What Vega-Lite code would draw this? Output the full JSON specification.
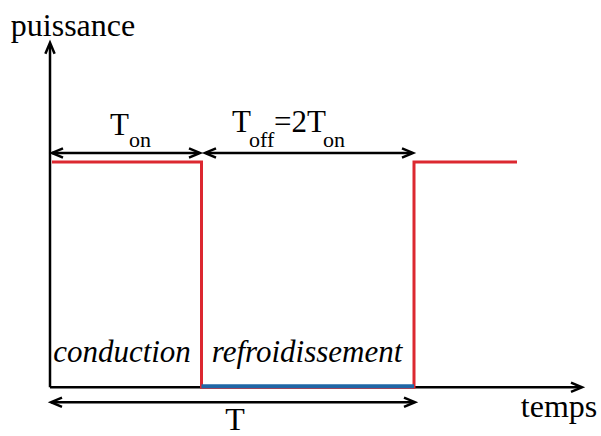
{
  "$schema": "https://vega.github.io/schema/vega-lite/v6.json",
  "width": 601,
  "height": 436,
  "autosize": {"type": "fit", "contains": "padding"},
  "padding": 0,
  "background": "white",
  "config": {"view": {"stroke": null}, "text": {"font": "Times New Roman, Liberation Serif, Times, serif"}},
  "datasets": {
    "segs": [
      {"x1": 0, "y1": 0, "x2": 0, "y2": 345},
      {"x1": 0, "y1": 0, "x2": 531, "y2": 0},
      {"x1": 2, "y1": 236, "x2": 149, "y2": 236},
      {"x1": 156, "y1": 236, "x2": 362, "y2": 236},
      {"x1": 1, "y1": -15, "x2": 364, "y2": -15}
    ],
    "heads": [
      {"t": 0, "p": 347, "dir": "up"},
      {"t": 532, "p": 0, "dir": "right"},
      {"t": 2, "p": 236, "dir": "left"},
      {"t": 150, "p": 236, "dir": "right"},
      {"t": 155, "p": 236, "dir": "left"},
      {"t": 363, "p": 236, "dir": "right"},
      {"t": 1, "p": -15, "dir": "left"},
      {"t": 365, "p": -15, "dir": "right"}
    ],
    "power": [
      {"i": 1, "t": 2, "p": 227},
      {"i": 2, "t": 151.5, "p": 227},
      {"i": 3, "t": 151.5, "p": 0},
      {"i": 4, "t": 364, "p": 0},
      {"i": 5, "t": 364, "p": 227},
      {"i": 6, "t": 467, "p": 227}
    ],
    "cool": [
      {"t": 151.5, "t2": 364, "p": 1}
    ],
    "texts": [
      {"kind": "label", "t": 23, "p": 354, "text": "puissance"},
      {"kind": "label", "t": 509, "p": -30, "text": "temps"},
      {"kind": "label", "t": 185, "p": -43, "text": "T"},
      {"kind": "main", "t": 60, "p": 254, "text": "T"},
      {"kind": "main", "t": 182, "p": 257, "text": "T"},
      {"kind": "main", "t": 224, "p": 257, "text": "=2T"},
      {"kind": "sub", "t": 79, "p": 242, "text": "on"},
      {"kind": "sub", "t": 199, "p": 242, "text": "off"},
      {"kind": "sub", "t": 273, "p": 242, "text": "on"},
      {"kind": "ital", "t": 72, "p": 25, "text": "conduction"},
      {"kind": "ital", "t": 257, "p": 25, "text": "refroidissement"}
    ]
  },
  "layer": [
    {
      "data": {"name": "segs"},
      "mark": {"type": "rule", "color": "black", "strokeWidth": 2.5},
      "encoding": {
        "x": {"field": "x1", "type": "quantitative", "scale": {"domain": [-50, 551], "nice": false, "zero": false}, "axis": null},
        "x2": {"field": "x2"},
        "y": {"field": "y1", "type": "quantitative", "scale": {"domain": [-46, 390], "nice": false, "zero": false}, "axis": null},
        "y2": {"field": "y2"}
      }
    },
    {
      "data": {"name": "power"},
      "mark": {"type": "line", "color": "#dc2830", "strokeWidth": 3, "interpolate": "linear"},
      "encoding": {
        "x": {"field": "t", "type": "quantitative", "scale": {"domain": [-50, 551], "nice": false, "zero": false}, "axis": null},
        "y": {"field": "p", "type": "quantitative", "scale": {"domain": [-46, 390], "nice": false, "zero": false}, "axis": null},
        "order": {"field": "i", "type": "quantitative"}
      }
    },
    {
      "data": {"name": "cool"},
      "mark": {"type": "rule", "color": "#1f66a6", "strokeWidth": 4},
      "encoding": {
        "x": {"field": "t", "type": "quantitative", "scale": {"domain": [-50, 551], "nice": false, "zero": false}, "axis": null},
        "x2": {"field": "t2"},
        "y": {"field": "p", "type": "quantitative", "scale": {"domain": [-46, 390], "nice": false, "zero": false}, "axis": null}
      }
    },
    {
      "data": {"name": "heads"},
      "mark": {"type": "point", "filled": false, "color": "black", "strokeWidth": 2.5, "opacity": 1, "size": 484, "strokeJoin": "miter"},
      "encoding": {
        "x": {"field": "t", "type": "quantitative", "scale": {"domain": [-50, 551], "nice": false, "zero": false}, "axis": null},
        "y": {"field": "p", "type": "quantitative", "scale": {"domain": [-46, 390], "nice": false, "zero": false}, "axis": null},
        "shape": {"field": "dir", "type": "nominal", "legend": null,
          "scale": {"domain": ["right", "left", "up"], "range": ["M-1,-0.42L0,0L-1,0.42", "M1,-0.42L0,0L1,0.42", "M-0.42,1L0,0L0.42,1"]}}
      }
    },
    {
      "data": {"name": "texts"},
      "transform": [{"filter": "datum.kind === 'label'"}],
      "mark": {"type": "text", "fontSize": 32, "align": "center", "baseline": "alphabetic", "color": "black"},
      "encoding": {
        "x": {"field": "t", "type": "quantitative", "scale": {"domain": [-50, 551], "nice": false, "zero": false}, "axis": null},
        "y": {"field": "p", "type": "quantitative", "scale": {"domain": [-46, 390], "nice": false, "zero": false}, "axis": null},
        "text": {"field": "text"}
      }
    },
    {
      "data": {"name": "texts"},
      "transform": [{"filter": "datum.kind === 'main'"}],
      "mark": {"type": "text", "fontSize": 31, "align": "left", "baseline": "alphabetic", "color": "black"},
      "encoding": {
        "x": {"field": "t", "type": "quantitative", "scale": {"domain": [-50, 551], "nice": false, "zero": false}, "axis": null},
        "y": {"field": "p", "type": "quantitative", "scale": {"domain": [-46, 390], "nice": false, "zero": false}, "axis": null},
        "text": {"field": "text"}
      }
    },
    {
      "data": {"name": "texts"},
      "transform": [{"filter": "datum.kind === 'sub'"}],
      "mark": {"type": "text", "fontSize": 22, "align": "left", "baseline": "alphabetic", "color": "black"},
      "encoding": {
        "x": {"field": "t", "type": "quantitative", "scale": {"domain": [-50, 551], "nice": false, "zero": false}, "axis": null},
        "y": {"field": "p", "type": "quantitative", "scale": {"domain": [-46, 390], "nice": false, "zero": false}, "axis": null},
        "text": {"field": "text"}
      }
    },
    {
      "data": {"name": "texts"},
      "transform": [{"filter": "datum.kind === 'ital'"}],
      "mark": {"type": "text", "fontSize": 31, "fontStyle": "italic", "align": "center", "baseline": "alphabetic", "color": "black"},
      "encoding": {
        "x": {"field": "t", "type": "quantitative", "scale": {"domain": [-50, 551], "nice": false, "zero": false}, "axis": null},
        "y": {"field": "p", "type": "quantitative", "scale": {"domain": [-46, 390], "nice": false, "zero": false}, "axis": null},
        "text": {"field": "text"}
      }
    }
  ]
}
